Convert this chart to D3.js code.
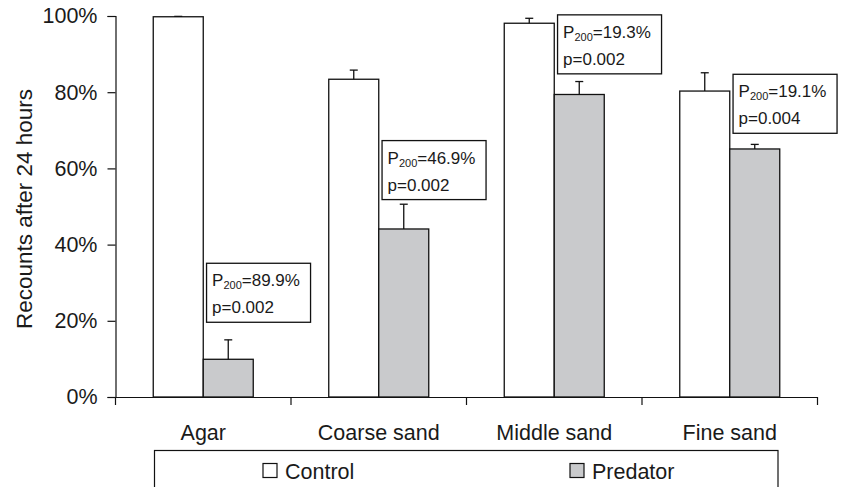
<!DOCTYPE html>
<html><head><meta charset="utf-8">
<script src="https://cdn.jsdelivr.net/npm/d3@7"></script>
<style>
html,body{margin:0;padding:0;background:#fff;}
svg text{font-family:"Liberation Sans",Arial,Helvetica,sans-serif;fill:#1a1a1a;}
</style></head>
<body><svg id="c" width="841" height="487"></svg>
<script>
// ---- data ----
const categories = ["Agar", "Coarse sand", "Middle sand", "Fine sand"];
const seriesNames = ["Control", "Predator"];
const controlValues = [99.8, 83.4, 98.1, 80.3];
const controlErrors = [0.1, 2.4, 1.3, 4.8];
const predatorValues = [9.9, 44.1, 79.4, 65.1];
const predatorErrors = [5.1, 6.5, 3.4, 1.2];
const annotP200 = ["89.9%", "46.9%", "19.3%", "19.1%"];
const annotP = ["0.002", "0.002", "0.002", "0.004"];
const annotTop = [35.1, 67.3, 100.3, 84.7]; // annotation box top, in % units
const yTicks = [0, 20, 40, 60, 80, 100];

(function () {
// ---- layout ----
const svg = d3.select("#c");
const pLeft = 115.5, pRight = 817.5, pTop = 16, pBottom = 397;
const FS = 21.5;
const x = d3.scaleBand().domain(categories).range([pLeft, pRight]).padding(0);
const xs = d3.scaleBand().domain(seriesNames).range([0, x.bandwidth()]).paddingInner(0).paddingOuter(0.755);
const y = d3.scaleLinear().domain([0, 100]).range([pBottom, pTop]);
const fills = {Control: "#ffffff", Predator: "#c9cacc"};

const rows = [];
categories.forEach((c, i) => {
  rows.push({cat: c, s: "Control", v: controlValues[i], e: controlErrors[i]});
  rows.push({cat: c, s: "Predator", v: predatorValues[i], e: predatorErrors[i]});
});

// bars
svg.append("g").selectAll("rect").data(rows).join("rect")
  .attr("x", d => x(d.cat) + xs(d.s))
  .attr("y", d => y(d.v))
  .attr("width", xs.bandwidth())
  .attr("height", d => y(0) - y(d.v))
  .attr("fill", d => fills[d.s])
  .attr("stroke", "#111").attr("stroke-width", 1.3);

// error bars
const eg = svg.append("g").attr("stroke", "#111").attr("stroke-width", 1.3);
rows.forEach(d => {
  const cx = x(d.cat) + xs(d.s) + xs.bandwidth() / 2;
  eg.append("line").attr("x1", cx).attr("x2", cx).attr("y1", y(d.v)).attr("y2", y(d.v + d.e));
  eg.append("line").attr("x1", cx - 4).attr("x2", cx + 4).attr("y1", y(d.v + d.e)).attr("y2", y(d.v + d.e));
});

// y axis
const yAxis = svg.append("g").attr("transform", `translate(${pLeft},0)`)
  .call(d3.axisLeft(y).tickValues(yTicks).tickFormat(d => d + "%").tickSize(8).tickPadding(10));
yAxis.select(".domain").attr("stroke", "#111").attr("stroke-width", 1.2);
yAxis.selectAll(".tick line").attr("stroke", "#111").attr("stroke-width", 1.2);
yAxis.selectAll("text").attr("font-size", FS).attr("fill", "#1a1a1a")
  .style("font-family", '"Liberation Sans",Arial,sans-serif');

// x axis
const xAxis = svg.append("g").attr("transform", `translate(0,${pBottom})`)
  .call(d3.axisBottom(x).tickSize(0).tickPadding(27.5));
xAxis.select(".domain").attr("stroke", "#111").attr("stroke-width", 1.2);
xAxis.selectAll("text").attr("font-size", FS).attr("fill", "#1a1a1a")
  .style("font-family", '"Liberation Sans",Arial,sans-serif');
// category boundary ticks
const bounds = categories.map(c => x(c)).concat([x(categories[categories.length - 1]) + x.bandwidth()]);
svg.append("g").selectAll("line").data(bounds).join("line")
  .attr("x1", d => d).attr("x2", d => d).attr("y1", pBottom).attr("y2", pBottom + 8)
  .attr("stroke", "#111").attr("stroke-width", 1.2);

// y title
svg.append("text")
  .attr("transform", `translate(31.5,209) rotate(-90)`)
  .attr("text-anchor", "middle").attr("font-size", 22.5)
  .text("Recounts after 24 hours");

// annotation boxes
categories.forEach((c, i) => {
  const bx = x(c) + xs("Predator") + 3.3, by = y(annotTop[i]);
  const g = svg.append("g");
  g.append("rect").attr("x", bx).attr("y", by).attr("width", 104).attr("height", 59)
    .attr("fill", "#fff").attr("stroke", "#111").attr("stroke-width", 1.3);
  const t1 = g.append("text").attr("x", bx + 5.5).attr("y", by + 23).attr("font-size", 17);
  t1.append("tspan").text("P");
  t1.append("tspan").attr("font-size", 11).attr("dy", 3).text("200");
  t1.append("tspan").attr("dy", -3).text("=" + annotP200[i]);
  g.append("text").attr("x", bx + 5.5).attr("y", by + 50).attr("font-size", 17).text("p=" + annotP[i]);
});

// legend
const lg = svg.append("g");
lg.append("rect").attr("x", 154.5).attr("y", 450.5).attr("width", 623.5).attr("height", 60)
  .attr("fill", "#fff").attr("stroke", "#111").attr("stroke-width", 1.2);
const legX = [263, 570];
seriesNames.forEach((s, i) => {
  lg.append("rect").attr("x", legX[i]).attr("y", 463.5).attr("width", 14).attr("height", 14)
    .attr("fill", fills[s]).attr("stroke", "#111").attr("stroke-width", 1.2);
  lg.append("text").attr("x", legX[i] + 22).attr("y", 478.5).attr("font-size", FS).text(s);
});
})();
</script></body></html>
